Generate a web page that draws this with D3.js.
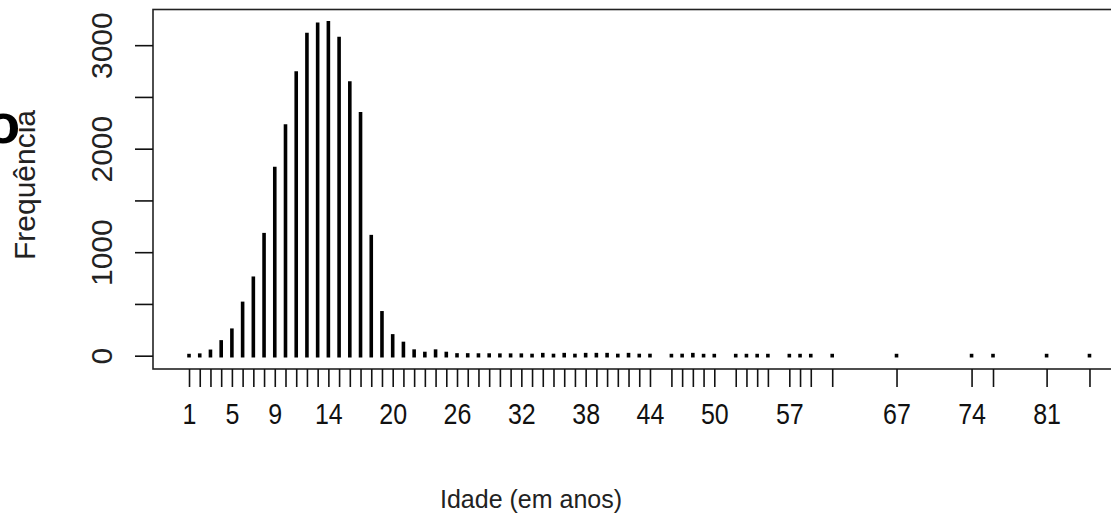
<!DOCTYPE html>
<html>
<head>
<meta charset="utf-8">
<script src="https://cdn.jsdelivr.net/npm/d3@7"></script>
<style>
  body { margin: 0; background: #fff; }
  svg { display: block; font-family: "Liberation Sans", Arial, sans-serif; }
</style>
</head>
<body>
<div id="chart"></div>
<script>
// idade x frequencia (plot type "h" de uma tabela)
const idades = [1, 2, 3, 4, 5, 6, 7, 8, 9, 10, 11, 12, 13, 14, 15, 16, 17, 18, 19, 20,
  21, 22, 23, 24, 25, 26, 27, 28, 29, 30, 31, 32, 33, 34, 35, 36, 37, 38, 39, 40,
  41, 42, 43, 44, 46, 47, 48, 49, 50, 52, 53, 54, 55, 57, 58, 59, 61, 67, 74, 76, 81, 85];
const frequencias = [1, 5, 42, 133, 246, 505, 748, 1169, 1807, 2219, 2731, 3103, 3201, 3216, 3064, 2633, 2336, 1150, 414, 191,
  118, 44, 21, 44, 21, 7, 7, 6, 6, 5, 5, 5, 2, 10, 2, 10, 2, 10, 10, 10,
  2, 10, 2, 2, 1, 2, 10, 1, 1, 1, 1, 1, 1, 1, 1, 1, 1, 1, 1, 1, 1, 1];
const rotulosX = [1, 5, 9, 14, 20, 26, 32, 38, 44, 50, 57, 67, 74, 81];
const ticksY = [0, 500, 1000, 1500, 2000, 2500, 3000];
const rotulosY = [0, 1000, 2000, 3000];

const W = 1111, H = 516;
const box = { left: 153, top: 9.5, bottom: 369, right: 1125.5 };

const svg = d3.select("#chart").append("svg").attr("width", W).attr("height", H);

// limites como no R: 4% de folga em cada lado
const xr = d3.extent(idades), xpad = (xr[1] - xr[0]) * 0.04;
const x = d3.scaleLinear().domain([xr[0] - xpad, xr[1] + xpad]).range([box.left, box.right]);
const ymax = d3.max(frequencias);
const y = d3.scaleLinear().domain([-0.04 * ymax, 1.04 * ymax]).range([box.bottom, box.top]);

const dados = idades.map((v, i) => ({ idade: v, freq: frequencias[i] }));

svg.append("g").selectAll("line").data(dados).enter().append("line")
  .attr("x1", d => x(d.idade)).attr("x2", d => x(d.idade))
  .attr("y1", y(0)).attr("y2", d => y(d.freq))
  .attr("stroke", "#000").attr("stroke-width", 3.6).attr("stroke-linecap", "square");

svg.append("rect").attr("x", box.left).attr("y", box.top)
  .attr("width", box.right - box.left).attr("height", box.bottom - box.top)
  .attr("fill", "none").attr("stroke", "#222").attr("stroke-width", 1.6);

// eixo x
const ax = svg.append("g").attr("transform", `translate(0,${box.bottom})`)
  .call(d3.axisBottom(x).tickValues(idades).tickSize(18).tickFormat(d => rotulosX.includes(d) ? d : ""));
ax.select(".domain").remove();
ax.selectAll(".tick line").attr("stroke", "#111").attr("stroke-width", 1.6);
ax.selectAll(".tick text").attr("y", 0).attr("dy", 0)
  .attr("transform", "translate(0,55) scale(1,1.15)")
  .style("font-size", "25px").attr("fill", "#111");

// eixo y
const ay = svg.append("g").attr("transform", `translate(${box.left},0)`)
  .call(d3.axisLeft(y).tickValues(ticksY).tickSize(18).tickFormat(d => rotulosY.includes(d) ? d : ""));
ay.select(".domain").remove();
ay.selectAll(".tick line").attr("stroke", "#111").attr("stroke-width", 1.6);
ay.selectAll(".tick text")
  .attr("x", 0).attr("y", 0).attr("dy", 0)
  .attr("transform", "translate(-41,0) rotate(-90)")
  .attr("text-anchor", "middle")
  .style("font-size", "30px").attr("fill", "#222");

svg.append("text").attr("x", 531).attr("y", 508).attr("text-anchor", "middle")
  .style("font-size", "25px").attr("fill", "#222").text("Idade (em anos)");
svg.append("text").attr("transform", "translate(35,185) rotate(-90)").attr("text-anchor", "middle")
  .style("font-size", "30px").attr("fill", "#222").text("Frequência");

// resto de letra cortado na borda esquerda
svg.append("text").attr("x", -14).attr("y", 143).style("font-size", "56px").style("font-weight", "bold").text("o");
</script>
</body>
</html>
